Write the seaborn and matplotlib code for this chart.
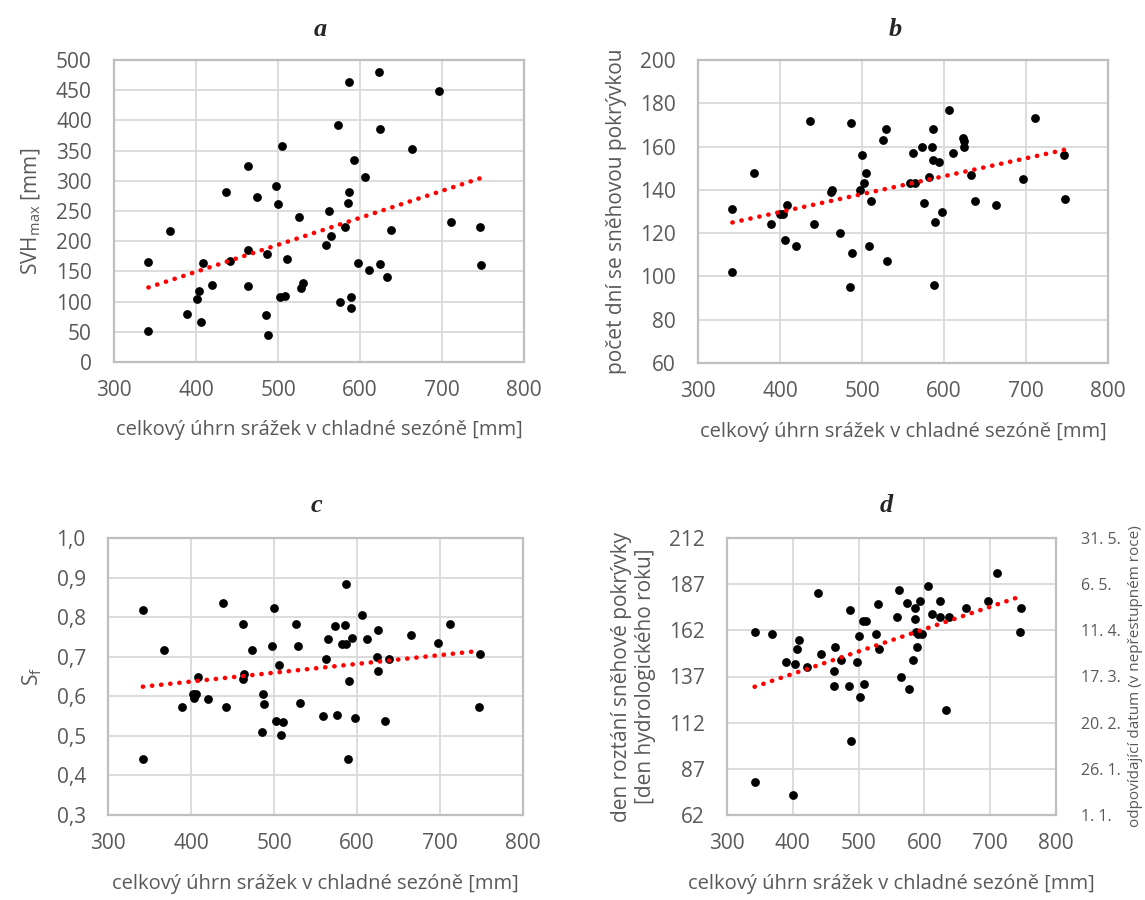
import numpy as np
import pandas as pd
import matplotlib
matplotlib.use("Agg")
import matplotlib.pyplot as plt
import seaborn as sns

# ---------------- data ----------------
a_x = [623, 586, 696, 573, 624, 505, 663, 593, 464, 606, 437, 498, 586, 474, 585, 500, 526, 562,
       711, 746, 582, 638, 368, 565, 559, 463, 487, 511, 442, 342, 408, 597, 624, 747, 611, 633,
       531, 528, 420, 463, 404, 401, 502, 509, 589, 576, 589, 389, 485, 406, 342, 488]
a_y = [480, 463, 448, 393, 386, 357, 352, 334, 324, 306, 282, 292, 281, 273, 264, 262, 240, 250,
       232, 223, 223, 218, 217, 209, 194, 185, 178, 171, 167, 166, 164, 164, 162, 160, 153, 141,
       130, 123, 127, 126, 118, 104, 107, 110, 108, 99, 89, 79, 78, 67, 51, 44]

b_x = [606, 711, 437, 487, 529, 587, 526, 623, 624, 573, 585, 624, 562, 611, 500, 586, 594, 746,
       368, 505, 633, 582, 696, 502, 559, 565, 747, 463, 462, 497, 511, 638, 576, 664, 408, 342,
       400, 404, 597, 589, 389, 442, 473, 406, 420, 508, 488, 530, 342, 588, 485]
b_y = [177, 173, 172, 171, 168, 168, 163, 164, 162.7, 160, 160, 160, 157, 157, 156, 154, 153, 156,
       148, 148, 147, 146, 145, 143, 143, 143, 136, 140, 139, 140, 135, 135, 134, 133, 133, 131,
       129, 129, 130, 125, 124, 124, 120, 117, 114, 114, 111, 107, 102, 96, 95]

c_x = [587, 438, 500, 342, 606, 463, 527, 712, 586, 573, 625, 665, 565, 594, 612, 582, 587, 698,
       498, 529, 368, 473, 748, 624, 639, 563, 506, 625, 464, 408, 463, 590, 402, 406, 404, 487,
       420, 488, 531, 389, 442, 747, 576, 559, 598, 634, 502, 511, 486, 508, 342, 589]
c_y = [0.884, 0.835, 0.823, 0.817, 0.806, 0.783, 0.783, 0.782, 0.781, 0.777, 0.767, 0.754, 0.746,
       0.747, 0.746, 0.733, 0.733, 0.734, 0.727, 0.727, 0.718, 0.716, 0.708, 0.700, 0.694, 0.693,
       0.680, 0.664, 0.656, 0.650, 0.644, 0.638, 0.607, 0.607, 0.595, 0.607, 0.592, 0.581, 0.582,
       0.574, 0.573, 0.574, 0.553, 0.549, 0.545, 0.538, 0.538, 0.536, 0.510, 0.503, 0.441, 0.441]

d_x = [711, 606, 562, 438, 529, 573, 593, 623, 696, 585, 663, 747, 487, 612, 559, 624, 638, 586,
       506, 511, 342, 369, 587, 597, 590, 746, 526, 500, 409, 406, 464, 588, 531, 443, 389, 404,
       474, 498, 582, 421, 463, 565, 462, 485, 508, 576, 502, 633, 488, 342, 401]
d_y = [193, 186, 184, 182, 176, 177, 178, 178, 178, 174, 174, 174, 173, 171, 169, 169, 169, 168,
       167, 167, 161, 160, 161, 160, 160, 161, 160, 159, 157, 152, 153, 153, 152, 149, 145, 144,
       146, 145, 146, 142, 140, 137, 132, 132, 133, 130, 126, 119, 102, 80, 73]

x_ticks = [300, 400, 500, 600, 700, 800]
a_ticks = [0, 50, 100, 150, 200, 250, 300, 350, 400, 450, 500]
b_ticks = [60, 80, 100, 120, 140, 160, 180, 200]
c_ticks = [0.3, 0.4, 0.5, 0.6, 0.7, 0.8, 0.9, 1.0]
c_labels = ["0,3", "0,4", "0,5", "0,6", "0,7", "0,8", "0,9", "1,0"]
d_ticks = [62, 87, 112, 137, 162, 187, 212]
d_dates = ["1. 1.", "26. 1.", "20. 2.", "17. 3.", "11. 4.", "6. 5.", "31. 5."]

titles = ["a", "b", "c", "d"]
xlabel = "celkový úhrn srážek v chladné sezóně [mm]"
ylabels = ["SVH$_{\\mathrm{max}}$ [mm]", "počet dní se sněhovou pokrývkou", "S$_{\\mathrm{f}}$",
           "den roztání sněhové pokrývky\n[den hydrologického roku]"]
d_right_label = "odpovídající datum (v nepřestupném roce)"

# ---------------- style ----------------
sns.set_style("white")
plt.rcParams["font.family"] = ["Open Sans", "DejaVu Sans"]
plt.rcParams["mathtext.fontset"] = "custom"
plt.rcParams["mathtext.rm"] = "Open Sans"
plt.rcParams["mathtext.it"] = "Open Sans:italic"

TXT = "#595959"
GRID = "#d9d9d9"
SPINE = "#bfbfbf"
W, H = 1145, 900

fig = plt.figure(figsize=(W / 100, H / 100), dpi=100)


def make_ax(l, r, t, b):
    return fig.add_axes([l / W, 1 - b / H, (r - l) / W, (b - t) / H])


boxes = [(114, 524, 60, 362), (698, 1108, 60, 363), (108, 523, 538, 815), (727, 1056, 538, 815)]
datasets = [(a_x, a_y, (0, 500), a_ticks, None),
            (b_x, b_y, (60, 200), b_ticks, None),
            (c_x, c_y, (0.3, 1.0), c_ticks, c_labels),
            (d_x, d_y, (62, 212), d_ticks, None)]
title_pos = [(320, 30), (895, 30), (316, 506), (886, 506)]

axes = []
for i, ((l, r, t, b), (xs, ys, ylim, yt, ylab)) in enumerate(zip(boxes, datasets)):
    ax = make_ax(l, r, t, b)
    df = pd.DataFrame({"x": xs, "y": ys})
    sns.scatterplot(data=df, x="x", y="y", ax=ax, color="black", s=40, linewidth=0, zorder=3)
    sns.regplot(data=df, x="x", y="y", ax=ax, scatter=False, ci=None,
                line_kws=dict(color="#ff0000", linewidth=3.3, linestyle=(0, (0.05, 1.95)),
                              dash_capstyle="round", zorder=4))
    ax.set_xlim(300, 800)
    ax.set_ylim(*ylim)
    ax.set_xticks(x_ticks)
    ax.set_yticks(yt)
    if ylab is not None:
        ax.set_yticklabels(ylab)
    ax.grid(True, color=GRID, linewidth=1.3)
    ax.set_axisbelow(True)
    for s in ax.spines.values():
        s.set_visible(True)
        s.set_color(SPINE)
        s.set_linewidth(1.6)
    ax.tick_params(axis="both", length=0, labelsize=15, labelcolor=TXT)
    ax.tick_params(axis="y", pad=16)
    ax.tick_params(axis="x", pad=13)
    ax.set_xlabel(xlabel, fontsize=14.5, color=TXT, labelpad=14)
    ax.set_ylabel(ylabels[i], fontsize=15, color=TXT, labelpad=9)
    fig.text(title_pos[i][0] / W, 1 - title_pos[i][1] / H, titles[i], ha="center", va="center",
             fontsize=19, fontweight="bold", fontstyle="italic", family="Liberation Serif")
    axes.append(ax)

# right axis for panel d
axd = axes[3]
axr = axd.twinx()
axr.set_ylim(62, 212)
axr.set_yticks(d_ticks)
axr.set_yticklabels(d_dates)
axr.tick_params(axis="y", length=0, labelsize=11.5, labelcolor=TXT, pad=18)
for s in axr.spines.values():
    s.set_visible(False)
axr.set_ylabel(d_right_label, fontsize=11, color=TXT, labelpad=5)

fig.savefig("out.png", dpi=100)
